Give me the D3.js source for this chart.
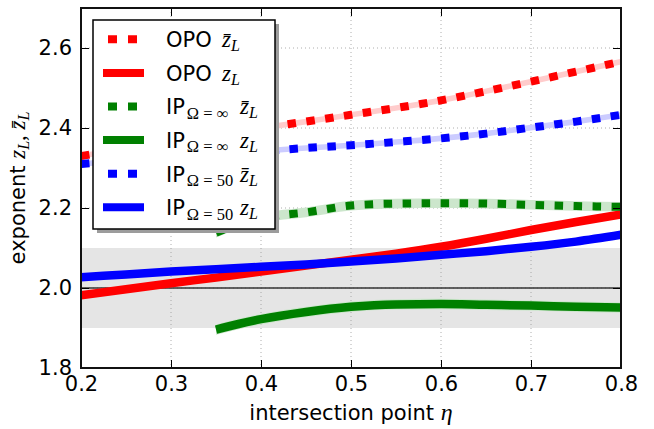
<!DOCTYPE html>
<html>
<head>
<meta charset="utf-8">
<script src="https://cdn.jsdelivr.net/npm/d3@7"></script>
<style>
  body { margin: 0; background: #fff; }
  svg text { font-family: "DejaVu Sans", sans-serif; fill: #000; }
  .m { font-family: "Liberation Serif", "DejaVu Serif", serif; font-style: italic; }
  .r { font-family: "Liberation Serif", "DejaVu Serif", serif; font-style: normal; }
</style>
</head>
<body>
<svg id="chart" width="654" height="429"></svg>
<script>
// intersection points eta
const etaFull = [0.2, 0.25, 0.3, 0.35, 0.4, 0.45, 0.5, 0.55, 0.6, 0.65, 0.7, 0.75, 0.8];
const etaIP   = [0.35, 0.375, 0.4, 0.45, 0.5, 0.55, 0.6, 0.65, 0.7, 0.75, 0.8];

// OPO exponents
const opoBar = [2.330, 2.348, 2.366, 2.384, 2.400, 2.416, 2.433, 2.450, 2.469, 2.492, 2.516, 2.541, 2.566];
const opoZ   = [1.982, 1.997, 2.012, 2.026, 2.041, 2.056, 2.071, 2.086, 2.103, 2.123, 2.145, 2.165, 2.184];

// IP, Omega = infinity
const ipInfBar = [2.138, 2.160, 2.175, 2.189, 2.206, 2.211, 2.212, 2.211, 2.208, 2.205, 2.203];
const ipInfZ   = [1.896, 1.910, 1.922, 1.940, 1.953, 1.959, 1.960, 1.958, 1.956, 1.953, 1.951];

// IP, Omega = 50
const ip50Bar = [2.310, 2.319, 2.327, 2.335, 2.342, 2.350, 2.357, 2.365, 2.374, 2.386, 2.401, 2.416, 2.433];
const ip50Z   = [2.027, 2.034, 2.041, 2.047, 2.053, 2.059, 2.066, 2.074, 2.083, 2.092, 2.103, 2.116, 2.133];

// uncertainty half-widths of each estimate
const errOpoBar = 0.007, errOpoZ = 0.009;
const errIpInfBar = 0.012, errIpInfZ = 0.013;
const errIp50Bar = 0.007, errIp50Z = 0.009;

// reference value and its tolerance band
const zRef = 2.0, zBand = [1.9, 2.1];

const xTicks = [0.2, 0.3, 0.4, 0.5, 0.6, 0.7, 0.8];
const yTicks = [1.8, 2.0, 2.2, 2.4, 2.6];

const svg = d3.select("#chart");
const L = 81, R = 621, T = 8, B = 368;
const x = d3.scaleLinear().domain([0.2, 0.8]).range([L, R]);
const y = d3.scaleLinear().domain([1.8, 2.7]).range([B, T]);

svg.append("defs").append("clipPath").attr("id", "plotclip")
  .append("rect").attr("x", L).attr("y", T).attr("width", R - L).attr("height", B - T);

const plot = svg.append("g").attr("clip-path", "url(#plotclip)");

// tolerance band
plot.append("rect")
  .attr("x", L).attr("width", R - L)
  .attr("y", y(zBand[1])).attr("height", y(zBand[0]) - y(zBand[1]))
  .attr("fill", "#e5e5e5");

// dotted grid
const grid = plot.append("g").attr("stroke", "#9a9a9a").attr("stroke-width", 0.8)
  .attr("stroke-dasharray", "1,3");
grid.selectAll(".gx").data(xTicks).join("line")
  .attr("x1", d => x(d)).attr("x2", d => x(d)).attr("y1", T).attr("y2", B);
grid.selectAll(".gy").data(yTicks).join("line")
  .attr("y1", d => y(d)).attr("y2", d => y(d)).attr("x1", L).attr("x2", R);

// reference line
plot.append("line")
  .attr("x1", L).attr("x2", R).attr("y1", y(zRef)).attr("y2", y(zRef))
  .attr("stroke", "#333").attr("stroke-width", 1.4);

const series = [
  { eta: etaFull, v: opoBar,   err: errOpoBar,   color: "#ff0000", halo: "#ffcccc", dotted: true },
  { eta: etaFull, v: opoZ,     err: errOpoZ,     color: "#ff0000", halo: "#ffcccc", dotted: false },
  { eta: etaIP,   v: ipInfBar, err: errIpInfBar, color: "#008000", halo: "#cce6cc", dotted: true },
  { eta: etaIP,   v: ipInfZ,   err: errIpInfZ,   color: "#008000", halo: "#cce6cc", dotted: false },
  { eta: etaFull, v: ip50Bar,  err: errIp50Bar,  color: "#0000ff", halo: "#ccccff", dotted: true },
  { eta: etaFull, v: ip50Z,    err: errIp50Z,    color: "#0000ff", halo: "#ccccff", dotted: false }
];

const area = d3.area().curve(d3.curveMonotoneX)
  .x(d => x(d[0])).y0(d => y(d[1] - d[2])).y1(d => y(d[1] + d[2]));
const line = d3.line().curve(d3.curveMonotoneX)
  .x(d => x(d[0])).y(d => y(d[1]));

// uncertainty shading
series.forEach(s => {
  const pts = s.eta.map((e, i) => [e, s.v[i], s.err]);
  plot.append("path").attr("d", area(pts)).attr("fill", s.halo);
});

// estimate curves
series.forEach(s => {
  const pts = s.eta.map((e, i) => [e, s.v[i]]);
  const p = plot.append("path").attr("d", line(pts))
    .attr("fill", "none").attr("stroke", s.color);
  if (s.dotted) p.attr("stroke-width", 8).attr("stroke-dasharray", "8.5,10.5");
  else p.attr("stroke-width", 8.5);
});

// axes with inward ticks on all sides
const fmt = d3.format(".1f");
const ax = svg.append("g");
ax.append("g").attr("transform", `translate(0,${B})`)
  .call(d3.axisBottom(x).tickValues(xTicks).tickFormat(fmt).tickSizeInner(-8).tickSizeOuter(0).tickPadding(8));
ax.append("g").attr("transform", `translate(${L},0)`)
  .call(d3.axisLeft(y).tickValues(yTicks).tickFormat(fmt).tickSizeInner(-8).tickSizeOuter(0).tickPadding(9));
ax.append("g").attr("transform", `translate(0,${T})`)
  .call(d3.axisTop(x).tickValues(xTicks).tickFormat("").tickSizeInner(-8).tickSizeOuter(0));
ax.append("g").attr("transform", `translate(${R},0)`)
  .call(d3.axisRight(y).tickValues(yTicks).tickFormat("").tickSizeInner(-8).tickSizeOuter(0));
ax.selectAll(".domain").remove();
ax.selectAll(".tick line").attr("stroke", "#000").attr("stroke-width", 1);
ax.selectAll(".tick text").attr("font-size", 21).attr("fill", "#000")
  .style("font-family", "'DejaVu Sans', sans-serif");

svg.append("rect").attr("x", L).attr("y", T).attr("width", R - L).attr("height", B - T)
  .attr("fill", "none").attr("stroke", "#111").attr("stroke-width", 2);

// axis titles
const xl = svg.append("text").attr("x", (L + R) / 2).attr("y", 420)
  .attr("text-anchor", "middle").attr("font-size", 21);
xl.append("tspan").text("intersection point ");
xl.append("tspan").attr("class", "m").attr("font-size", 24).text("η");

const yl = svg.append("text").attr("transform", `translate(25,${(T + B) / 2}) rotate(-90)`)
  .attr("text-anchor", "middle").attr("font-size", 21);
yl.append("tspan").text("exponent ");
yl.append("tspan").attr("class", "m").attr("font-size", 23).text("z");
yl.append("tspan").attr("class", "m").attr("font-size", 16).attr("dy", 4).text("L");
yl.append("tspan").attr("class", "r").attr("font-size", 23).attr("dy", -4).text(", ");
yl.append("tspan").attr("class", "m").attr("font-size", 23).text("z\u0304");
yl.append("tspan").attr("class", "m").attr("font-size", 16).attr("dy", 4).text("L");

// legend
const legendItems = [
  { name: "OPO", sub: null,    bar: true,  s: series[0] },
  { name: "OPO", sub: null,    bar: false, s: series[1] },
  { name: "IP",  sub: "Ω = ∞", bar: true,  s: series[2] },
  { name: "IP",  sub: "Ω = ∞", bar: false, s: series[3] },
  { name: "IP",  sub: "Ω = 50", bar: true, s: series[4] },
  { name: "IP",  sub: "Ω = 50", bar: false, s: series[5] }
];
const lg = svg.append("g");
const lx = 93, ly = 20, lw = 182, lh = 209;
lg.append("rect").attr("x", lx + 4).attr("y", ly + 4).attr("width", lw).attr("height", lh)
  .attr("fill", "#9c9c9c");
lg.append("rect").attr("x", lx).attr("y", ly).attr("width", lw).attr("height", lh)
  .attr("fill", "#fff").attr("stroke", "#000").attr("stroke-width", 1.5);

legendItems.forEach((it, i) => {
  const cy = 39.3 + i * 33.6;
  if (it.s.dotted) {
    lg.append("line").attr("x1", 108).attr("x2", 137).attr("y1", cy).attr("y2", cy)
      .attr("stroke", it.s.color).attr("stroke-width", 8).attr("stroke-dasharray", "9,11");
  } else {
    lg.append("line").attr("x1", 103).attr("x2", 144).attr("y1", cy).attr("y2", cy)
      .attr("stroke", it.s.color).attr("stroke-width", 8);
  }
  const t = lg.append("text").attr("x", 166).attr("y", cy + 7.8).attr("font-size", 21);
  t.append("tspan").text(it.name);
  let zx = 222;
  if (it.sub) {
    t.append("tspan").attr("class", "r").attr("font-size", 16.5).attr("dx", 2).attr("dy", 4.5).text(it.sub);
    zx = 240;
  }
  const zt = lg.append("text").attr("x", zx).attr("y", cy + 7.8).attr("font-size", 23);
  zt.append("tspan").attr("class", "m").text(it.bar ? "z\u0304" : "z");
  zt.append("tspan").attr("class", "m").attr("font-size", 16).attr("dy", 4).text("L");
});
</script>
</body>
</html>
